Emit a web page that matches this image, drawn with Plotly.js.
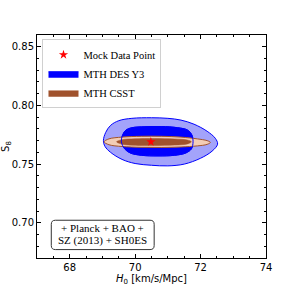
<!DOCTYPE html>
<html><head><meta charset="utf-8">
<script src="https://cdn.plot.ly/plotly-3.0.1.min.js"></script>
<style>html,body{margin:0;padding:0;background:#fff}</style>
</head><body><div id="chart" style="width:296px;height:296px"></div>
<script>
// Mock data point
const mockH0 = [70.48];
const mockS8 = [0.769];
// MTH DES Y3 contours (outer = 95%, inner = 68%)
const desOuterH0 = [69.03, 69.1, 69.25, 69.5, 69.9, 70.5, 71.0, 71.4, 71.8, 72.2, 72.45, 72.52, 72.35, 72.0, 71.5, 71.0, 70.5, 70.0, 69.6, 69.25, 69.08, 69.03];
const desOuterS8 = [0.770, 0.777, 0.783, 0.787, 0.789, 0.7895, 0.789, 0.7875, 0.784, 0.778, 0.772, 0.767, 0.761, 0.755, 0.750, 0.7485, 0.749, 0.7505, 0.754, 0.760, 0.765, 0.770];
const desInnerH0 = [69.58, 69.62, 69.72, 69.9, 70.3, 70.8, 71.3, 71.6, 71.73, 71.77, 71.72, 71.55, 71.2, 70.7, 70.2, 69.85, 69.68, 69.58];
const desInnerS8 = [0.769, 0.775, 0.779, 0.781, 0.7818, 0.782, 0.781, 0.779, 0.775, 0.769, 0.763, 0.7595, 0.7575, 0.757, 0.7575, 0.7595, 0.763, 0.769];
// MTH CSST contours
const csstOuterH0 = [69.05, 69.2, 69.6, 70.2, 70.8, 71.4, 71.9, 72.2, 72.3, 72.2, 71.9, 71.4, 70.8, 70.2, 69.6, 69.2, 69.05];
const csstOuterS8 = [0.7690, 0.7715, 0.7730, 0.7737, 0.7737, 0.7730, 0.7715, 0.7700, 0.7685, 0.7668, 0.7655, 0.7646, 0.7642, 0.7643, 0.7650, 0.7665, 0.7690];
const csstInnerH0 = [69.43, 69.6, 70.0, 70.6, 71.2, 71.6, 71.72, 71.6, 71.2, 70.6, 70.0, 69.6, 69.43];
const csstInnerS8 = [0.769, 0.7708, 0.7716, 0.7718, 0.7714, 0.7705, 0.769, 0.7672, 0.7662, 0.7658, 0.766, 0.767, 0.769];
// Texts
const legendNames = ["Mock Data Point", "MTH DES Y3", "MTH CSST"];
const boxLines = ["+ Planck + BAO +", "SZ (2013) + SH0ES"];
const xTicks = [68, 70, 72, 74];
const yTicks = [0.70, 0.75, 0.80, 0.85];

const serif = "Liberation Serif, Times New Roman, serif";
const sans = "DejaVu Sans, sans-serif";

const traces = [
  {x: desOuterH0, y: desOuterS8, type: 'scatter', mode: 'lines', fill: 'toself',
   fillcolor: '#a3a3fa', line: {color: '#0000ff', width: 1, shape: 'spline', smoothing: 1},
   showlegend: false, hoverinfo: 'skip'},
  {x: desInnerH0, y: desInnerS8, type: 'scatter', mode: 'lines', fill: 'toself',
   fillcolor: '#0000ff', line: {color: '#0000ff', width: 1, shape: 'spline', smoothing: 1},
   name: legendNames[1], legendrank: 2, hoverinfo: 'skip'},
  {x: csstOuterH0, y: csstOuterS8, type: 'scatter', mode: 'lines', fill: 'toself',
   fillcolor: '#f2cdb6', line: {color: '#a0522d', width: 1, shape: 'spline', smoothing: 1},
   showlegend: false, hoverinfo: 'skip'},
  {x: csstInnerH0, y: csstInnerS8, type: 'scatter', mode: 'lines', fill: 'toself',
   fillcolor: '#a0522d', line: {color: '#a0522d', width: 0.5, shape: 'spline', smoothing: 1},
   name: legendNames[2], legendrank: 3, hoverinfo: 'skip'},
  {x: desInnerH0, y: desInnerS8, type: 'scatter', mode: 'lines',
   line: {color: '#0000ff', width: 1, shape: 'spline', smoothing: 1},
   showlegend: false, hoverinfo: 'skip'},
  {x: mockH0, y: mockS8, type: 'scatter', mode: 'markers',
   marker: {symbol: 'star', size: 7, color: '#ff0000', line: {width: 0}},
   name: legendNames[0], legendrank: 1}
];

const px0 = 0.0624, px1 = 0.5116, py0 = 0.0377, py1 = 0.1693, rx = 0.018, ry = 0.018;
const boxPath = `M ${px0+rx} ${py0} L ${px1-rx} ${py0} Q ${px1} ${py0} ${px1} ${py0+ry} L ${px1} ${py1-ry} Q ${px1} ${py1} ${px1-rx} ${py1} L ${px0+rx} ${py1} Q ${px0} ${py1} ${px0} ${py1-ry} L ${px0} ${py0+ry} Q ${px0} ${py0} ${px0+rx} ${py0} Z`;

const layout = {
  width: 296, height: 296,
  margin: {l: 37, r: 30, t: 35, b: 38, pad: 0},
  paper_bgcolor: '#fff', plot_bgcolor: '#fff',
  showlegend: true,
  legend: {x: 0.024, y: 0.981, xanchor: 'left', yanchor: 'top',
    bgcolor: '#fff', bordercolor: '#d0d0d0', borderwidth: 1,
    font: {family: serif, size: 10.5, color: '#000'},
    itemwidth: 30, tracegroupgap: 0},
  xaxis: {range: [67, 74], tickvals: xTicks, ticktext: xTicks.map(String),
    ticks: 'inside', ticklen: 4, tickwidth: 1, tickcolor: '#000',
    minor: {dtick: 0.5, ticks: 'inside', ticklen: 2, tickcolor: '#000'},
    showline: true, linecolor: '#000', linewidth: 1, mirror: 'ticks',
    showgrid: false, zeroline: false,
    tickfont: {family: sans, size: 10, color: '#000'},
    title: {text: '<i>H</i><sub>0</sub> [km/s/Mpc]', font: {family: sans, size: 10, color: '#000'}, standoff: 2}},
  yaxis: {range: [0.67, 0.86], tickvals: yTicks, ticktext: yTicks.map(v => v.toFixed(2)),
    ticks: 'inside', ticklen: 4, tickwidth: 1, tickcolor: '#000',
    minor: {dtick: 0.01, ticks: 'inside', ticklen: 2, tickcolor: '#000'},
    showline: true, linecolor: '#000', linewidth: 1, mirror: 'ticks',
    showgrid: false, zeroline: false,
    tickfont: {family: sans, size: 10, color: '#000'},
    title: {text: 'S<sub>8</sub>', font: {family: sans, size: 10, color: '#000'}, standoff: 4}},
  shapes: [{type: 'path', xref: 'paper', yref: 'paper', path: boxPath,
    line: {color: '#333', width: 1}, fillcolor: '#fff'}],
  annotations: [
    {xref: 'paper', yref: 'paper', x: 0.287, y: 0.133, text: boxLines[0], showarrow: false,
     font: {family: serif, size: 11, color: '#000'}, xanchor: 'center', yanchor: 'middle'},
    {xref: 'paper', yref: 'paper', x: 0.287, y: 0.078, text: boxLines[1], showarrow: false,
     font: {family: serif, size: 11, color: '#000'}, xanchor: 'center', yanchor: 'middle'}
  ]
};

Plotly.newPlot('chart', traces, layout, {displayModeBar: false, staticPlot: true});
</script>
</body></html>
